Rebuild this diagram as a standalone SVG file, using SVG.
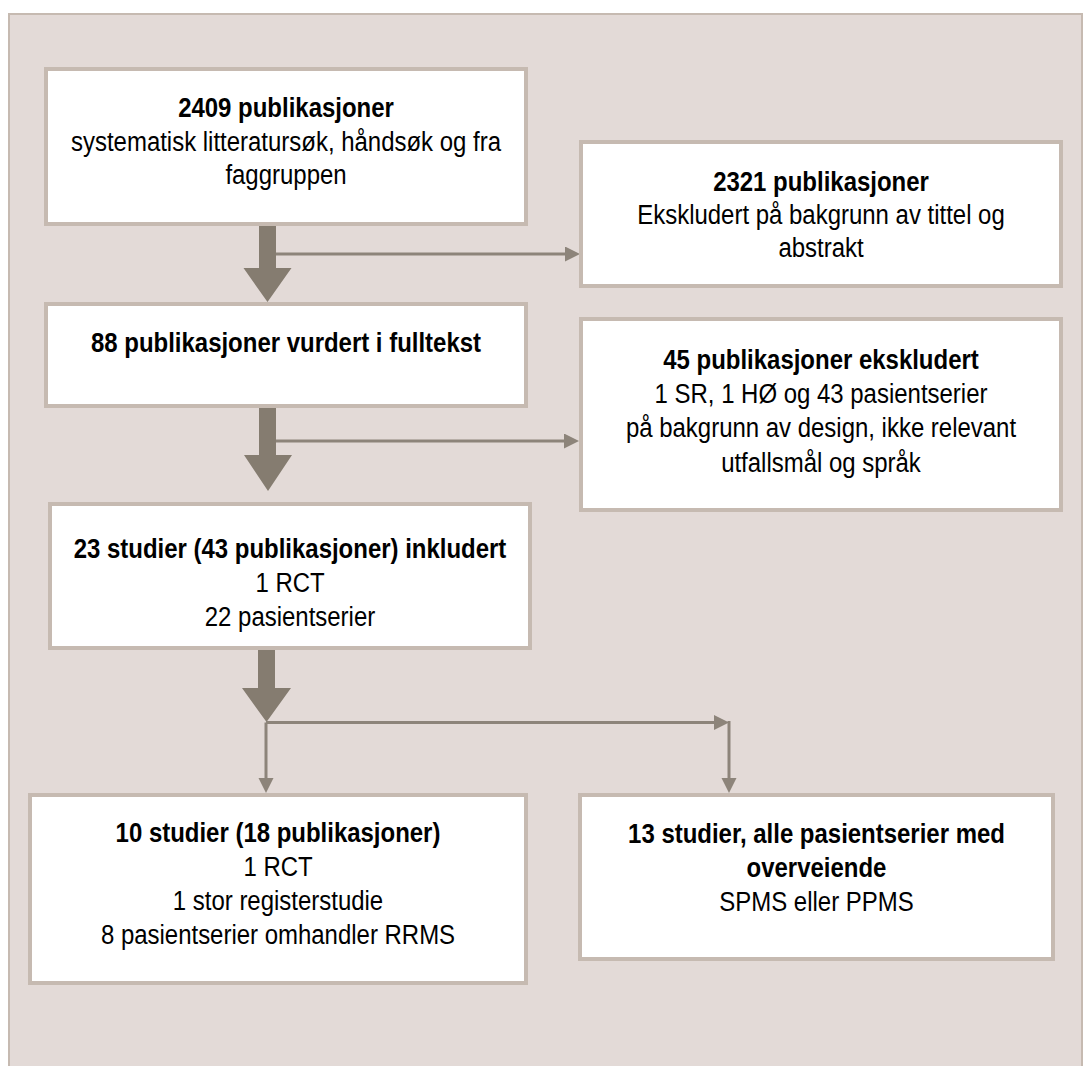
<svg xmlns="http://www.w3.org/2000/svg" width="1085" height="1066" viewBox="0 0 1085 1066">
<style>
.bx{fill:#fff;stroke:#c6bab1;stroke-width:4}
.t{font-family:"Liberation Sans",Arial,sans-serif;font-size:28px;fill:#000;text-anchor:middle}
.b{font-weight:bold}
.thick{fill:#857c70}
.thin{stroke:#8d847a;stroke-width:3;fill:none}
</style>
<defs>
<marker id="ah" markerUnits="userSpaceOnUse" markerWidth="16" markerHeight="16" refX="5" refY="7.5" orient="auto">
<path d="M0,0 L15,7.5 L0,15 z" fill="#8d847a"/>
</marker>
</defs>
<rect width="1085" height="1066" fill="#fff"/>
<rect x="9" y="14" width="1073" height="1070" fill="#e3dad7" stroke="#c6bab1" stroke-width="2"/>

<g id="connectors">
<polygon class="thick" points="259,224 276,224 276,268 291.5,268 267.5,302 243.5,268 259,268"/>
<polygon class="thick" points="259,407 276,407 276,455 292,455 268,491 244,455 259,455"/>
<polygon class="thick" points="258,648 275,648 275,688 291,688 266.5,722 242,688 258,688"/>
<path class="thin" d="M276,254 H570" marker-end="url(#ah)"/>
<path class="thin" d="M276,441 H569" marker-end="url(#ah)"/>
<path class="thin" d="M266,722.5 H719" marker-end="url(#ah)"/>
<path class="thin" d="M729,721 V783" marker-end="url(#ah)"/>
<path class="thin" d="M266,722.5 V783" marker-end="url(#ah)"/>
</g>

<g id="n1">
<rect class="bx" x="46" y="69" width="480" height="155"/>
<g transform="matrix(0.856 0 0 1 286 0)">
<text class="t b" x="0" y="117">2409 publikasjoner</text>
<text class="t" x="0" y="151">systematisk litteratursøk, håndsøk og fra</text>
<text class="t" x="0" y="184">faggruppen</text>
</g>
</g>

<g id="n2">
<rect class="bx" x="581" y="142" width="480" height="144"/>
<g transform="matrix(0.856 0 0 1 821 0)">
<text class="t b" x="0" y="191">2321 publikasjoner</text>
<text class="t" x="0" y="224">Ekskludert på bakgrunn av tittel og</text>
<text class="t" x="0" y="257">abstrakt</text>
</g>
</g>

<g id="n3">
<rect class="bx" x="46" y="304" width="480" height="102"/>
<g transform="matrix(0.856 0 0 1 286 0)">
<text class="t b" x="0" y="352">88 publikasjoner vurdert i fulltekst</text>
</g>
</g>

<g id="n4">
<rect class="bx" x="581" y="319" width="480" height="191"/>
<g transform="matrix(0.856 0 0 1 821 0)">
<text class="t b" x="0" y="369">45 publikasjoner ekskludert</text>
<text class="t" x="0" y="403">1 SR, 1 HØ og 43 pasientserier</text>
<text class="t" x="0" y="437">på bakgrunn av design, ikke relevant</text>
<text class="t" x="0" y="472">utfallsmål og språk</text>
</g>
</g>

<g id="n5">
<rect class="bx" x="50" y="504" width="480" height="144"/>
<g transform="matrix(0.856 0 0 1 290 0)">
<text class="t b" x="0" y="558">23 studier (43 publikasjoner) inkludert</text>
<text class="t" x="0" y="592">1 RCT</text>
<text class="t" x="0" y="626">22 pasientserier</text>
</g>
</g>

<g id="n6">
<rect class="bx" x="30" y="795" width="496" height="188"/>
<g transform="matrix(0.856 0 0 1 278 0)">
<text class="t b" x="0" y="842">10 studier (18 publikasjoner)</text>
<text class="t" x="0" y="876">1 RCT</text>
<text class="t" x="0" y="910">1 stor registerstudie</text>
<text class="t" x="0" y="944">8 pasientserier omhandler RRMS</text>
</g>
</g>

<g id="n7">
<rect class="bx" x="580" y="795" width="473" height="164"/>
<g transform="matrix(0.856 0 0 1 816.5 0)">
<text class="t b" x="0" y="843">13 studier, alle pasientserier med</text>
<text class="t b" x="0" y="877">overveiende</text>
<text class="t" x="0" y="911">SPMS eller PPMS</text>
</g>
</g>
</svg>
